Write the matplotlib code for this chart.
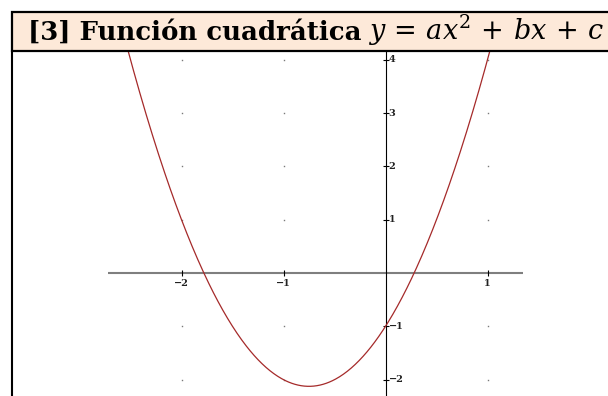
import numpy as np
import matplotlib
matplotlib.use("Agg")
import matplotlib.pyplot as plt
from matplotlib.patches import Rectangle
from matplotlib.lines import Line2D

# ---- data ----
coefficients = [2, 3, -1]            # y = a x^2 + b x + c
x_ticks = [-2, -1, 1]
x_tick_labels = ["\u22122", "\u22121", "1"]
y_ticks = [-2, -1, 1, 2, 3, 4]
y_tick_labels = ["\u22122", "\u22121", "1", "2", "3", "4"]
grid_x = [-2, -1, 1]
grid_y = [-2, -1, 1, 2, 3, 4]
title_text = "[3] Función cuadrática"
title_math = r"$y\,=\,ax^2\,+\,bx\,+\,c$"

plt.rcParams['mathtext.fontset'] = 'dejavuserif'

W, H = 608, 396
fig = plt.figure(figsize=(W / 100, H / 100), dpi=100)

# axes region: from x=12px to right edge, from title bottom (51px) to bottom
ax = fig.add_axes([12 / W, 0, (W - 12) / W, (H - 51) / H])
ax.set_axis_off()
x0_px, y0_px = 385.5, 273.0
sx, sy = 102.0, 53.33
ax.set_xlim((12 - x0_px) / sx, (W - x0_px) / sx)
ax.set_ylim((y0_px - H) / sy, (y0_px - 51) / sy)

# grid dots
gx, gy = np.meshgrid(grid_x, grid_y)
ax.plot(gx.ravel(), gy.ravel(), linestyle='none', marker='s', ms=1.0,
        color='#7a7a7a', mew=0)

# axes lines
ax.plot([(108 - x0_px) / sx, (523 - x0_px) / sx], [0, 0], color='#7f7f7f', lw=1.5,
        solid_capstyle='butt')
ax.axvline(0, color='black', lw=0.8)

# ticks
ax.plot(x_ticks, np.zeros(len(x_ticks)), linestyle='none', marker='|', ms=5,
        mew=0.8, color='black')
ax.plot(np.zeros(len(y_ticks)), y_ticks, linestyle='none', marker='_', ms=5,
        mew=0.8, color='black')

for xv, lab in zip(x_ticks, x_tick_labels):
    ax.annotate(lab, (xv, 0), xytext=(0, -4.0), textcoords='offset points',
                ha='center', va='top', fontsize=7, fontweight='bold',
                family='DejaVu Serif', color='#222222')
for yv, lab in zip(y_ticks, y_tick_labels):
    ax.annotate(lab, (0, yv), xytext=(2.2, 0), textcoords='offset points',
                ha='left', va='center', fontsize=7, fontweight='bold',
                family='DejaVu Serif', color='#222222')

# curve
xs = np.linspace(-3.0, 1.6, 600)
ys = np.polyval(coefficients, xs)
ax.plot(xs, ys, color='#a52a2a', lw=0.9)

# panel left border
fig.add_artist(Line2D([12 / W, 12 / W], [0, (H - 51) / H], transform=fig.transFigure,
                      color='black', lw=1.5))

# title box
fig.add_artist(Rectangle((12 / W, (H - 51) / H), (W + 20) / W, 39 / H,
                         transform=fig.transFigure, facecolor='#fde9d9',
                         edgecolor='black', lw=1.6, clip_on=False))
fig.text(28 / W, (H - 40) / H, title_text, fontsize=18.7, fontweight='bold',
         family='DejaVu Serif', va='baseline', ha='left')
fig.text(368 / W, (H - 40) / H, title_math, fontsize=19.5, va='baseline', ha='left')

fig.savefig('out.png', dpi=100)
